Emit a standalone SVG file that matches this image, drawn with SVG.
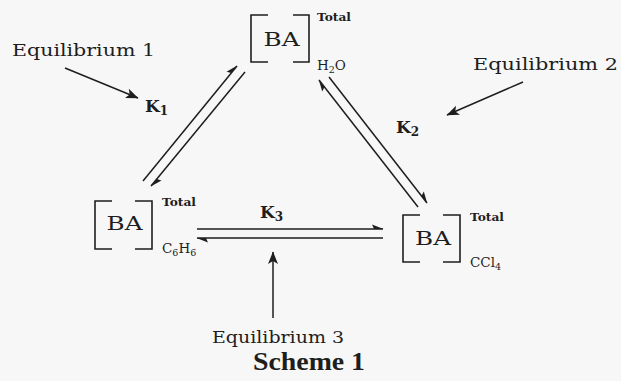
<svg xmlns="http://www.w3.org/2000/svg" width="621" height="381" viewBox="0 0 621 381">
<style>
.br{fill:none;stroke:#1e1e1e;stroke-width:1.6}
.ln{fill:none;stroke:#1e1e1e;stroke-width:1.5}
.t{font-family:"DejaVu Serif","Liberation Serif",serif;fill:#1e1e1e}
.ba{font-size:19px}
.sm{font-size:11.5px;font-weight:bold}
.fm{font-size:13.5px}
.sub{font-size:9.5px}
.eq{font-size:16.5px}
.k{font-family:"DejaVu Serif","Liberation Serif",serif;font-weight:bold;font-size:17px;fill:#1e1e1e}
.sc{font-family:"Liberation Serif",serif;font-weight:bold;font-size:25px;fill:#1e1e1e}
</style>
<defs>
<marker id="harp" markerUnits="userSpaceOnUse" markerWidth="16" markerHeight="12" viewBox="-14 -6 16 12" refX="0" refY="0" orient="auto">
<path d="M0.5,0 L-11,-4.5 L-9,0 Z" fill="#1e1e1e"/>
</marker>
<marker id="ah" markerUnits="userSpaceOnUse" markerWidth="16" markerHeight="12" viewBox="-14 -6 16 12" refX="0" refY="0" orient="auto">
<path d="M0.5,0 L-12,-5 L-9,0 L-12,5 Z" fill="#1e1e1e"/>
</marker>
</defs>
<rect width="621" height="381" fill="#f7f7f7"/>

<g id="node-h2o">
<path class="br" d="M268,15 H251 V62 H268"/>
<path class="br" d="M293,15 H309 V62 H293"/>
<text class="t ba" x="281.5" y="46" text-anchor="middle" textLength="36" lengthAdjust="spacingAndGlyphs">BA</text>
<text class="t sm" x="317" y="21" textLength="34" lengthAdjust="spacingAndGlyphs">Total</text>
<text class="t fm" x="317" y="70">H<tspan class="sub" dy="3">2</tspan><tspan dy="-3">O</tspan></text>
</g>

<g id="node-c6h6">
<path class="br" d="M112,201 H95 V249 H112"/>
<path class="br" d="M135,201 H152 V249 H135"/>
<text class="t ba" x="124.5" y="230" text-anchor="middle" textLength="36" lengthAdjust="spacingAndGlyphs">BA</text>
<text class="t sm" x="162" y="206" textLength="34" lengthAdjust="spacingAndGlyphs">Total</text>
<text class="t fm" x="162" y="253">C<tspan class="sub" dy="3">6</tspan><tspan dy="-3">H</tspan><tspan class="sub" dy="3">6</tspan></text>
</g>

<g id="node-ccl4">
<path class="br" d="M420,215 H403 V262 H420"/>
<path class="br" d="M443,215 H460 V262 H443"/>
<text class="t ba" x="433" y="245" text-anchor="middle" textLength="36" lengthAdjust="spacingAndGlyphs">BA</text>
<text class="t sm" x="470" y="221" textLength="34" lengthAdjust="spacingAndGlyphs">Total</text>
<text class="t fm" x="470" y="267">CCl<tspan class="sub" dy="3">4</tspan></text>
</g>

<g id="connectors">
<line class="ln" x1="143" y1="181" x2="237" y2="66" marker-end="url(#harp)"/>
<line class="ln" x1="245" y1="72" x2="151" y2="186" marker-end="url(#harp)"/>
<line class="ln" x1="418" y1="207" x2="319" y2="80" marker-end="url(#harp)"/>
<line class="ln" x1="329" y1="77" x2="427" y2="203" marker-end="url(#harp)"/>
<line class="ln" x1="197" y1="229" x2="383" y2="229" marker-end="url(#harp)"/>
<line class="ln" x1="383" y1="238" x2="197" y2="238" marker-end="url(#harp)"/>
<line class="ln" x1="65" y1="68" x2="138" y2="98" marker-end="url(#ah)"/>
<line class="ln" x1="523" y1="82" x2="447" y2="115" marker-end="url(#ah)"/>
<line class="ln" x1="273" y1="318" x2="273" y2="252" marker-end="url(#ah)"/>
</g>

<g id="labels">
<text class="k" x="145" y="112">K<tspan font-size="12" dy="3">1</tspan></text>
<text class="k" x="396" y="133">K<tspan font-size="12" dy="3">2</tspan></text>
<text class="k" x="260" y="218">K<tspan font-size="12" dy="3">3</tspan></text>
<text class="t eq" x="12" y="56" textLength="143" lengthAdjust="spacingAndGlyphs">Equilibrium 1</text>
<text class="t eq" x="473" y="70" textLength="145" lengthAdjust="spacingAndGlyphs">Equilibrium 2</text>
<text class="t eq" x="212" y="343" textLength="132" lengthAdjust="spacingAndGlyphs">Equilibrium 3</text>
<text class="sc" x="253" y="370" textLength="112" lengthAdjust="spacingAndGlyphs">Scheme 1</text>
</g>
</svg>
